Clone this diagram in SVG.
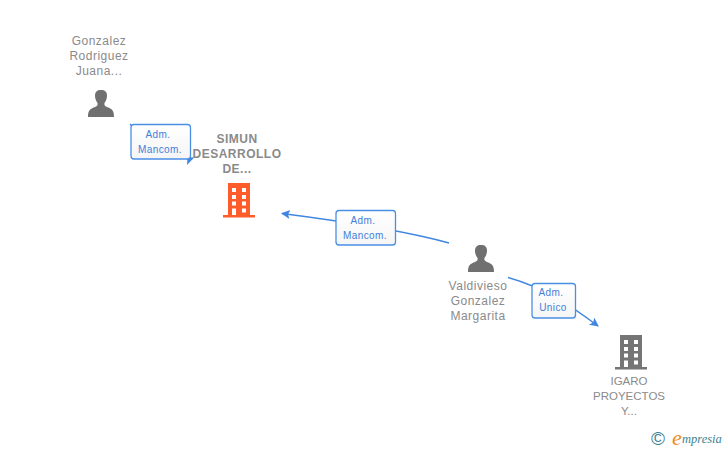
<svg xmlns="http://www.w3.org/2000/svg" width="728" height="450" viewBox="0 0 728 450">
<style>
text{font-family:"Liberation Sans",Arial,sans-serif}
.n{font-size:12px;letter-spacing:.5px;fill:#8a8a8a;text-anchor:middle}
.b{font-weight:bold}
.l{font-size:10px;letter-spacing:.4px;fill:#3f80dc;text-anchor:middle}
.e{fill:none;stroke:#3f86e0;stroke-width:1.3}
.box{stroke:#4a8fe6;stroke-width:1.3;fill:url(#g)}
.s{font-family:"Liberation Serif",serif;font-style:italic}
</style>
<defs>
<linearGradient id="g" x1="0" y1="0" x2="0" y2="1"><stop offset="0" stop-color="#fff"/><stop offset="1" stop-color="#f5f5f5"/></linearGradient>
<marker id="a" markerWidth="10" markerHeight="10" refX="8" refY="4.500" orient="auto" markerUnits="userSpaceOnUse"><path d="M0 0L9 4.500L0 9L2 4.500Z" fill="#3f86e0"/></marker>
<path id="person" fill="#707070" d="M-13 13.500C-13 8-12 5.500-6 3.500C-3.500 2.500-3 1-3.500-.5C-5.500-3-6-6-6-8C-6-11.500-4-13.500 0-13.500C4-13.500 6-11.500 6-8C6-6 5.500-3 3.500-.5C3 1 3.500 2.500 6 3.500C12 5.500 13 8 13 13.500Z"/>
<path id="bld" fill-rule="evenodd" d="M-11 0H11V32H16V34.500H-16V32H-11ZM-7 5V9H-3V5ZM3 5V9H7V5ZM-7 12V16H-3V12ZM3 12V16H7V12ZM-7 18.500V22.500H-3V18.500ZM3 18.500V22.500H7V18.500ZM-7 25.500V32H-3V25.500ZM3 25.500V29.500H7V25.500Z"/>
</defs>
<g id="connectors">
<path class="e" d="M130 124C150 146 182 162 193 158" marker-end="url(#a)"/>
<path class="e" d="M449 243Q395 228 282 213.500" marker-end="url(#a)"/>
<path class="e" d="M508 277.500C545 288 570 305 598 326" marker-end="url(#a)"/>
</g>
<g id="n1"><text class="n"><tspan x="99" y="45">Gonzalez</tspan><tspan x="99" y="60">Rodriguez</tspan><tspan x="99" y="75">Juana...</tspan></text><use href="#person" x="101" y="103.500"/></g>
<g id="n2"><text class="n b"><tspan x="237" y="143">SIMUN</tspan><tspan x="237" y="158">DESARROLLO</tspan><tspan x="237" y="173">DE...</tspan></text><use href="#bld" x="239" y="183" fill="#ff5c2b"/></g>
<g id="n3"><use href="#person" x="481" y="258.500"/><text class="n"><tspan x="478" y="289.500">Valdivieso</tspan><tspan x="478" y="304.500">Gonzalez</tspan><tspan x="478" y="319.500">Margarita</tspan></text></g>
<g id="n4"><use href="#bld" x="631" y="335" fill="#757575"/><text class="n" style="font-size:11.500px;letter-spacing:0"><tspan x="629" y="385">IGARO</tspan><tspan x="629" y="400">PROYECTOS</tspan><tspan x="629" y="415">Y...</tspan></text></g>
<g id="e1"><rect class="box" x="131" y="124.500" width="59.500" height="34.500" rx="3"/><text class="l"><tspan x="158" y="138">Adm.</tspan><tspan x="160" y="153">Mancom.</tspan></text></g>
<g id="e2"><rect class="box" x="336" y="210.500" width="59.500" height="34.500" rx="3"/><text class="l"><tspan x="363" y="224">Adm.</tspan><tspan x="365" y="239">Mancom.</tspan></text></g>
<g id="e3"><rect class="box" x="532" y="283.500" width="43.500" height="34.500" rx="3"/><text class="l"><tspan x="551" y="296">Adm.</tspan><tspan x="553" y="311">Unico</tspan></text></g>
<g id="logo"><text x="658" y="445" font-size="19" fill="#3d7f8f" text-anchor="middle">©</text><text x="672" y="444.500" font-size="22" fill="#f08a1d" class="s">e</text><text x="682" y="443" font-size="12.500" fill="#3d7f8f" class="s">mpresia</text></g>
</svg>
